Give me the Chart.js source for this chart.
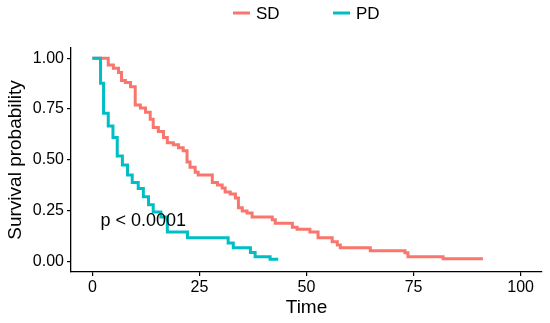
<!DOCTYPE html>
<html>
<head>
<meta charset="utf-8">
<script src="https://cdn.jsdelivr.net/npm/chart.js@4.4.1/dist/chart.umd.min.js"></script>
<style>
  body { margin: 0; background: #fff; }
</style>
</head>
<body>
<canvas id="kmChart" width="550" height="323"></canvas>
<script>
// Kaplan-Meier steps (time, survival after the event)
const sdTime = [0, 3.7, 4.9, 6.1, 6.8, 7.7, 8.9, 10.0, 11.2, 12.4, 13.5, 14.2, 15.4, 16.6, 17.5, 18.9, 20.1, 21.2,
    22.1, 22.8, 24.0, 24.7, 28.0, 29.2, 30.3, 31.0, 32.2, 33.4, 34.1, 35.0, 36.1, 37.3, 42.0, 42.7, 46.7, 47.8,
    50.8, 52.7, 56.0, 57.2, 57.9, 64.9, 73.0, 73.7, 81.9, 91.2];
const sdSurv = [1.0, 0.966, 0.95, 0.93, 0.89, 0.88, 0.86, 0.77, 0.755, 0.735, 0.70, 0.66, 0.64, 0.61, 0.585, 0.575, 0.56, 0.545,
    0.49, 0.465, 0.44, 0.426, 0.39, 0.377, 0.363, 0.343, 0.333, 0.314, 0.265, 0.25, 0.24, 0.22, 0.206, 0.19, 0.17, 0.16,
    0.147, 0.118, 0.098, 0.083, 0.069, 0.054, 0.044, 0.025, 0.015, 0.015];

const pdTime = [0, 1.9, 2.6, 3.7, 4.8, 5.8, 7.0, 8.2, 9.3, 10.7, 11.9, 13.1, 14.2, 16.0, 17.5, 22.2, 31.7, 32.9, 36.9, 38.0, 41.5, 43.4];
const pdSurv = [1.0, 0.877, 0.73, 0.667, 0.61, 0.52, 0.475, 0.426, 0.39, 0.36, 0.32, 0.28, 0.245, 0.22, 0.147, 0.118, 0.093, 0.069, 0.046, 0.025, 0.012, 0.012];

const groups = ['SD', 'PD'];
const groupColors = ['#F8766D', '#00BFC4'];
const xTicks = [0, 25, 50, 75, 100];
const yTicks = [0, 0.25, 0.5, 0.75, 1];
const pValueText = 'p < 0.0001';

const FONT = "'Liberation Sans', Arial, Helvetica, sans-serif";

function toPoints(times, surv) {
    return times.map((t, i) => ({ x: t, y: surv[i] }));
}

// ggplot-style legend on top + p-value label
const extras = {
    id: 'extras',
    afterDraw(chart) {
        const ctx = chart.ctx;
        ctx.save();
        ctx.font = '17px ' + FONT;
        ctx.textBaseline = 'middle';
        ctx.fillStyle = '#000';
        ctx.lineWidth = 3;
        const keyX = [233, 333];
        groups.forEach((g, i) => {
            ctx.strokeStyle = groupColors[i];
            ctx.beginPath();
            ctx.moveTo(keyX[i], 13);
            ctx.lineTo(keyX[i] + 17, 13);
            ctx.stroke();
            ctx.fillText(g, keyX[i] + 23, 14);
        });

        const xs = chart.scales.x, ys = chart.scales.y;
        ctx.font = '18px ' + FONT;
        ctx.fillText(pValueText, xs.getPixelForValue(1.9), ys.getPixelForValue(0.2));
        ctx.restore();
    }
};

const axisGrid = { display: true, drawOnChartArea: false, drawTicks: true, tickLength: 4, color: '#000', lineWidth: 1.2 };
const axisBorder = { display: true, color: '#000', width: 1.3 };

new Chart(document.getElementById('kmChart').getContext('2d'), {
    type: 'line',
    data: {
        datasets: [
            {
                label: groups[0],
                data: toPoints(sdTime, sdSurv),
                borderColor: groupColors[0],
                borderWidth: 3,
                stepped: 'before',
                pointRadius: 0,
                fill: false,
                order: 1
            },
            {
                label: groups[1],
                data: toPoints(pdTime, pdSurv),
                borderColor: groupColors[1],
                borderWidth: 3,
                stepped: 'before',
                pointRadius: 0,
                fill: false,
                order: 0
            }
        ]
    },
    options: {
        responsive: false,
        animation: false,
        devicePixelRatio: 1,
        layout: { padding: { top: 48, right: 8, bottom: 0, left: 0 } },
        plugins: { legend: { display: false }, tooltip: { enabled: false } },
        scales: {
            x: {
                type: 'linear',
                min: -5,
                max: 105,
                afterBuildTicks: s => { s.ticks = xTicks.map(v => ({ value: v })); },
                afterFit: s => { s.height = 51; },
                grid: axisGrid,
                border: axisBorder,
                ticks: { color: '#000', font: { family: FONT, size: 16 }, padding: 2, maxRotation: 0, autoSkip: false },
                title: { display: true, text: 'Time', color: '#000', font: { family: FONT, size: 19 }, padding: { top: 0, bottom: 4 } }
            },
            y: {
                type: 'linear',
                min: -0.05,
                max: 1.05,
                afterBuildTicks: s => { s.ticks = yTicks.map(v => ({ value: v })); },
                afterFit: s => { s.width = 71; },
                grid: axisGrid,
                border: axisBorder,
                ticks: { color: '#000', font: { family: FONT, size: 16 }, padding: 3, callback: v => v.toFixed(2) },
                title: { display: true, text: 'Survival probability', color: '#000', font: { family: FONT, size: 19 }, padding: { top: 4, bottom: 0 } }
            }
        }
    },
    plugins: [extras]
});
</script>
</body>
</html>
